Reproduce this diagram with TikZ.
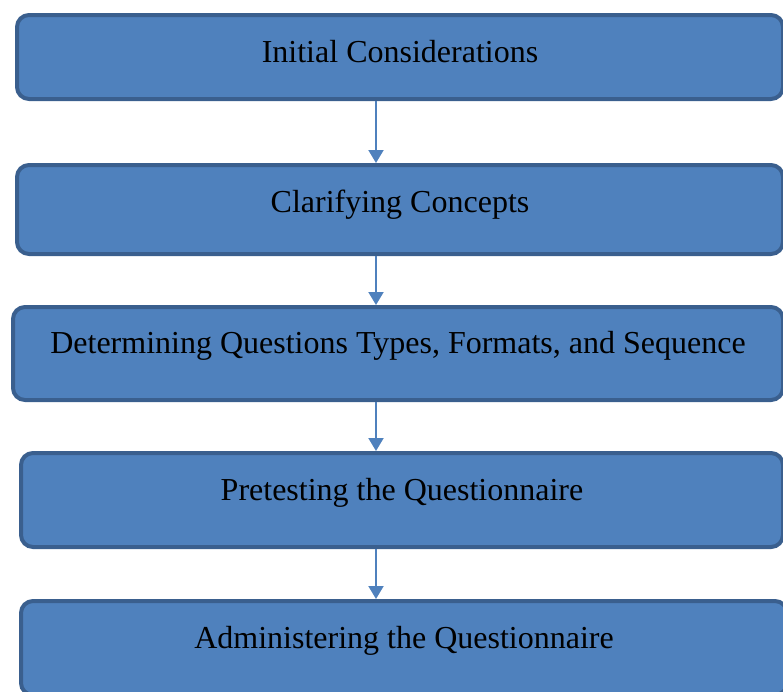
\documentclass[tikz,border=0pt]{standalone}
\usepackage{fontspec}
\setmainfont{Liberation Serif}
\usetikzlibrary{arrows.meta}
\definecolor{boxfill}{HTML}{4F81BD}
\definecolor{boxline}{HTML}{3A5F8E}

\begin{document}
\begin{tikzpicture}[x=1pt,y=-1pt,>={Triangle[width=15pt,length=13pt]}]
	\tikzstyle{step box}=[draw=boxline,fill=boxfill,line width=4pt,rounded corners=12pt,
		minimum height=90pt,text=black,font=\fontsize{32}{36}\selectfont,
		text height=8pt,text depth=8pt]
	\tikzstyle{flow}=[->,draw=boxfill,line width=2pt]
	
	\clip (0,0) rectangle (783,691);
	\useasboundingbox (0,0) rectangle (783,691);
	
	\node[step box,minimum width=766pt,minimum height=84pt,text height=13pt,text depth=3pt] (IC) at (400,57) {Initial Considerations};
	\node[step box,minimum width=766pt,minimum height=89pt,text height=11pt,text depth=5pt] (CC) at (400,209.5) {Clarifying Concepts};
	\node[step box,minimum width=770pt,minimum height=93pt] (DQ) at (398,353.5) {Determining Questions Types, Formats, and Sequence};
	\node[step box,minimum width=762pt,minimum height=94pt] (PQ) at (402,500) {Pretesting the Questionnaire};
	\node[step box,minimum width=766pt,minimum height=94pt] (AQ) at (404,648) {Administering the Questionnaire};
	
	\coordinate (ax) at (376,0);
	\draw[flow] (IC.south -| ax) -- (CC.north -| ax);
	\draw[flow] (CC.south -| ax) -- (DQ.north -| ax);
	\draw[flow] (DQ.south -| ax) -- (PQ.north -| ax);
	\draw[flow] (PQ.south -| ax) -- (AQ.north -| ax);
\end{tikzpicture}
\end{document}
